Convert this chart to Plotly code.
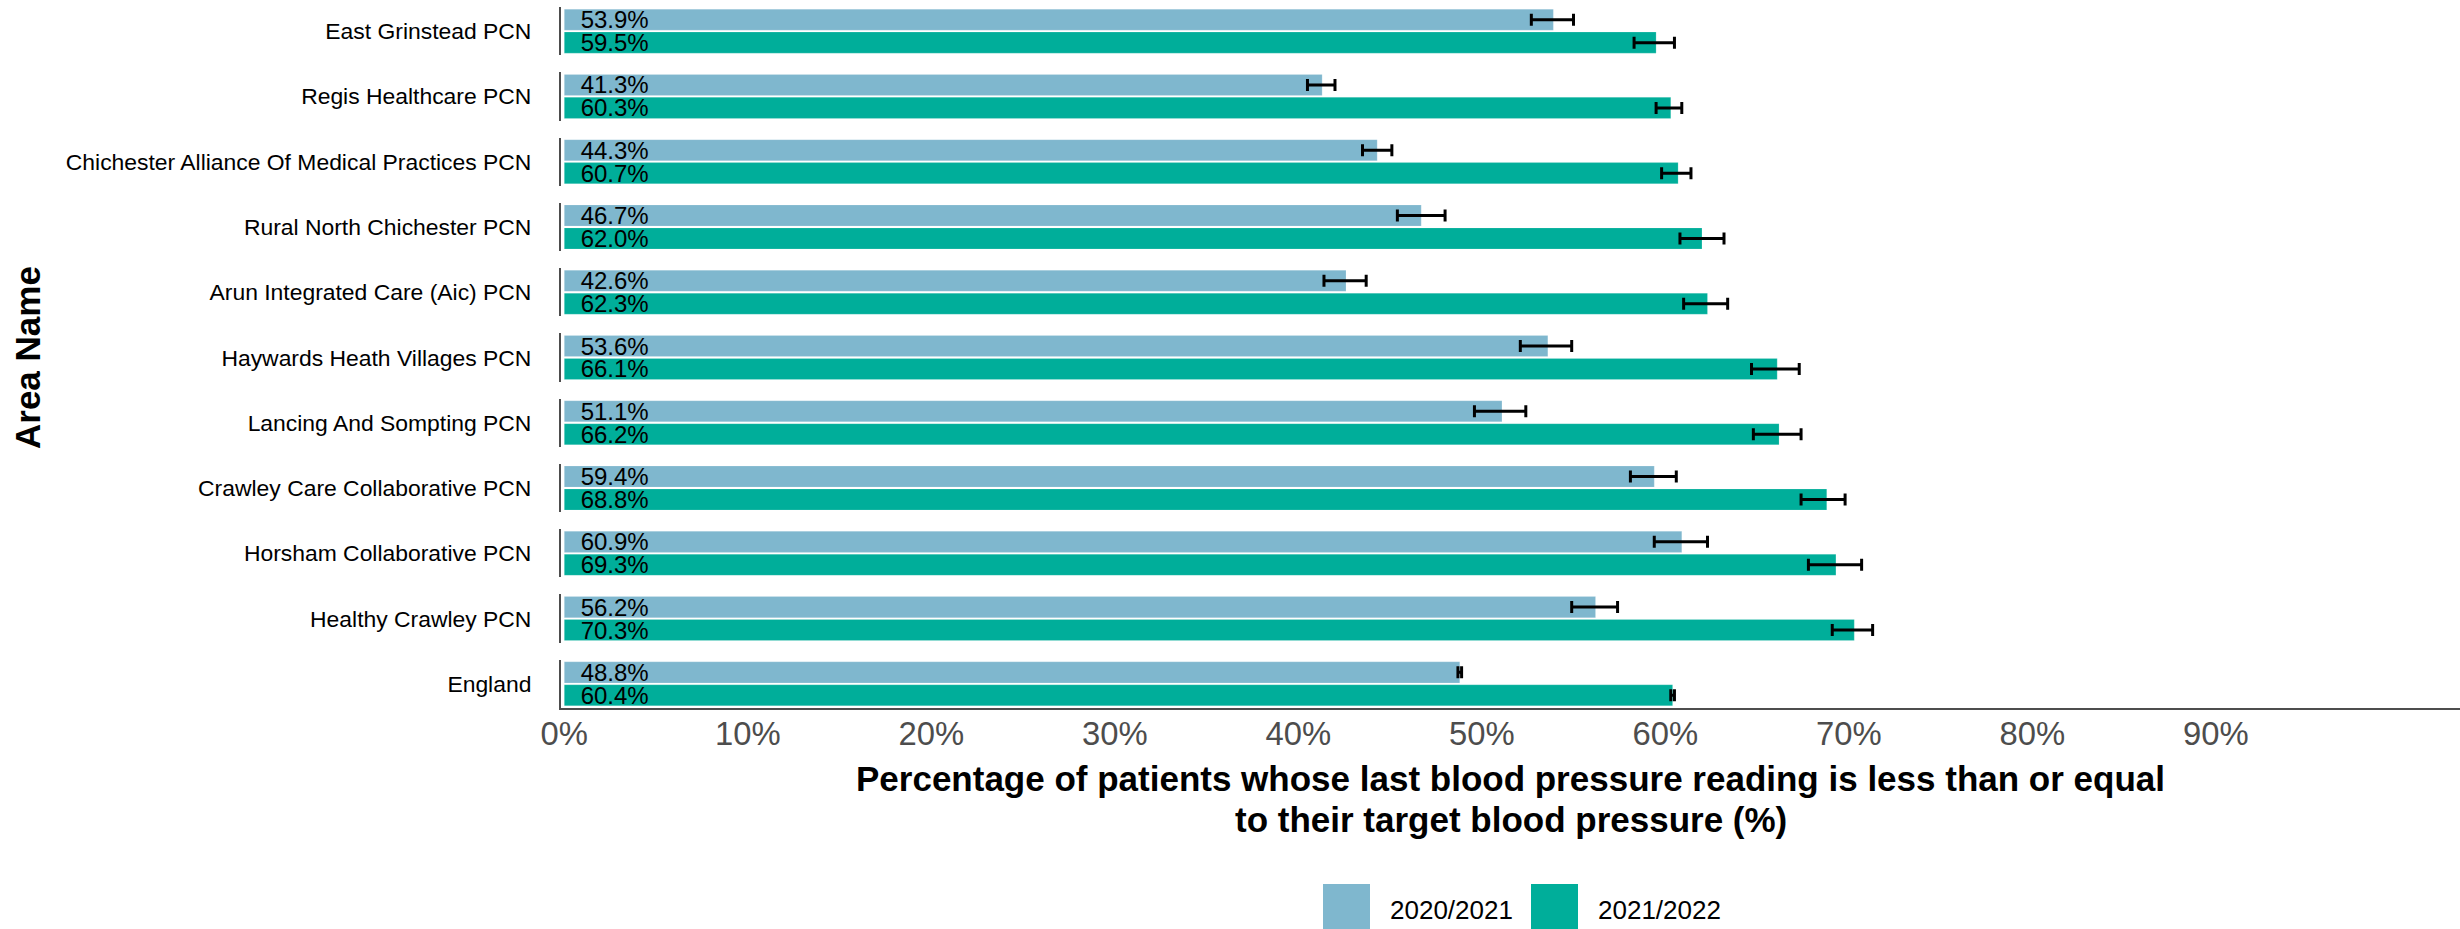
import plotly.graph_objects as go
from plotly.subplots import make_subplots

areas = [
    "East Grinstead PCN",
    "Regis Healthcare PCN",
    "Chichester Alliance Of Medical Practices PCN",
    "Rural North Chichester PCN",
    "Arun Integrated Care (Aic) PCN",
    "Haywards Heath Villages PCN",
    "Lancing And Sompting PCN",
    "Crawley Care Collaborative PCN",
    "Horsham Collaborative PCN",
    "Healthy Crawley PCN",
    "England",
]
periods = ["2020/2021", "2021/2022"]

val_2021 = [53.9, 41.3, 44.3, 46.7, 42.6, 53.6, 51.1, 59.4, 60.9, 56.2, 48.8]
lo_2021 = [52.7, 40.5, 43.5, 45.4, 41.4, 52.1, 49.6, 58.1, 59.4, 54.9, 48.7]
hi_2021 = [55.0, 42.0, 45.1, 48.0, 43.7, 54.9, 52.4, 60.6, 62.3, 57.4, 48.9]

val_2122 = [59.5, 60.3, 60.7, 62.0, 62.3, 66.1, 66.2, 68.8, 69.3, 70.3, 60.4]
lo_2122 = [58.3, 59.5, 59.8, 60.8, 61.0, 64.7, 64.8, 67.4, 67.8, 69.1, 60.3]
hi_2122 = [60.5, 60.9, 61.4, 63.2, 63.4, 67.3, 67.4, 69.8, 70.7, 71.3, 60.5]

tick_values = [0, 10, 20, 30, 40, 50, 60, 70, 80, 90]
tick_labels = [f"{v}%" for v in tick_values]

colors = {"2020/2021": "#7FB7CE", "2021/2022": "#00AE9A"}
FONT = "Arial, Liberation Sans, sans-serif"

series = {
    "2020/2021": (val_2021, lo_2021, hi_2021),
    "2021/2022": (val_2122, lo_2122, hi_2122),
}

n = len(areas)
fig = make_subplots(rows=n, cols=1, shared_xaxes=True, vertical_spacing=0.0242)

for i, area in enumerate(areas):
    for p in periods:
        vals, lo, hi = series[p]
        v = vals[i]
        fig.add_trace(
            go.Bar(
                x=[v],
                y=[area],
                orientation="h",
                name=p,
                showlegend=False,
                marker=dict(color=colors[p], line=dict(color="rgba(255,255,255,0.35)", width=0.5)),
                text=[f"\u00a0\u00a0{v:.1f}%"],
                textposition="inside",
                insidetextanchor="start",
                constraintext="none",
                insidetextfont=dict(color="black", size=24, family=FONT),
                error_x=dict(
                    type="data",
                    symmetric=False,
                    array=[hi[i] - v],
                    arrayminus=[v - lo[i]],
                    color="black",
                    thickness=3,
                    width=6,
                ),
                hoverinfo="skip",
            ),
            row=i + 1,
            col=1,
        )
    fig.update_yaxes(
        row=i + 1, col=1,
        type="category",
        range=[0.5, -0.5],
        showline=True, linecolor="#4D4D4D", linewidth=2,
        ticks="", ticklabelstandoff=23,
        tickfont=dict(size=22.9, color="black", family=FONT),
        showgrid=False, zeroline=False, fixedrange=True,
    )
    last = i == n - 1
    fig.update_xaxes(
        row=i + 1, col=1,
        range=[-0.18, 103.31],
        showgrid=False, zeroline=False,
        showline=last, linecolor="#4D4D4D", linewidth=2,
        tickvals=tick_values, ticktext=tick_labels,
        showticklabels=last,
        ticks="",
        ticklabelstandoff=-4,
        tickfont=dict(size=32.8, color="#4D4D4D", family=FONT),
        fixedrange=True,
    )

L, R, T, B = 561, 0, 7, 221
W, H = 2460, 929
pw = W - L - R
ph = H - T - B

def px_x(X):
    return (X - L) / pw

def px_y(Y):
    return (H - B - Y) / ph

annotations = [
    dict(text="<b>Percentage of patients whose last blood pressure reading is less than or equal</b>",
         x=0.5, y=px_y(778), xref="paper", yref="paper", xanchor="center", yanchor="middle",
         showarrow=False, font=dict(size=35, color="black", family=FONT)),
    dict(text="<b>to their target blood pressure (%)</b>",
         x=0.5, y=px_y(819), xref="paper", yref="paper", xanchor="center", yanchor="middle",
         showarrow=False, font=dict(size=35, color="black", family=FONT)),
    dict(text="<b>Area Name</b>", textangle=-90,
         x=px_x(28), y=px_y(358), xref="paper", yref="paper", xanchor="center", yanchor="middle",
         showarrow=False, font=dict(size=35, color="black", family=FONT)),
]

shapes = []
legend_pos = [(1323, 1388), (1531, 1596)]
for p, (sx, tx) in zip(periods, legend_pos):
    shapes.append(dict(type="rect", xref="paper", yref="paper",
                       x0=px_x(sx), x1=px_x(sx + 47), y0=px_y(884), y1=px_y(931),
                       fillcolor=colors[p], line=dict(width=0)))
    annotations.append(dict(text=p, x=px_x(tx), y=px_y(910), xref="paper", yref="paper",
                            xanchor="left", yanchor="middle", showarrow=False,
                            font=dict(size=26, color="black", family=FONT)))

fig.update_layout(
    width=W, height=H,
    margin=dict(l=L, r=R, t=T, b=B),
    barmode="group", bargap=0.05, bargroupgap=0.08,
    plot_bgcolor="white", paper_bgcolor="white",
    showlegend=False,
    hovermode=False,
    annotations=annotations,
    shapes=shapes,
    font=dict(family=FONT),
)

fig.write_html(
    "out.html",
    config={"displayModeBar": False, "staticPlot": True},
    post_script="document.body.style.margin='0px';document.body.style.overflow='hidden';",
)
